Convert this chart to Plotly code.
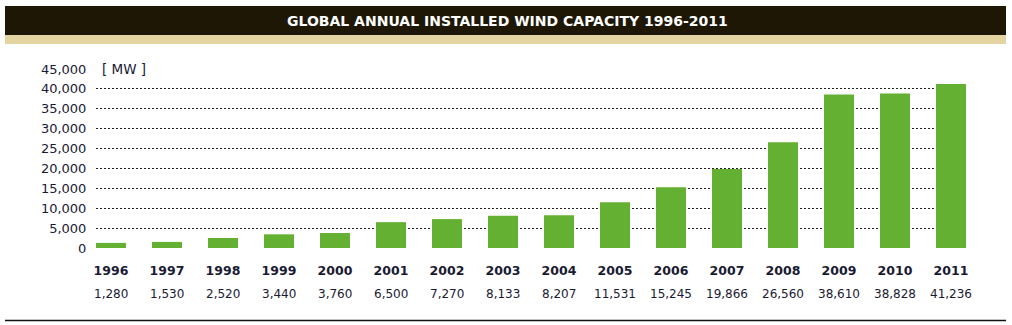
import plotly.graph_objects as go

years = ["1996", "1997", "1998", "1999", "2000", "2001", "2002", "2003",
         "2004", "2005", "2006", "2007", "2008", "2009", "2010", "2011"]
capacity = [1280, 1530, 2520, 3440, 3760, 6500, 7270, 8133,
            8207, 11531, 15245, 19866, 26560, 38610, 38828, 41236]
y_ticks = [0, 5000, 10000, 15000, 20000, 25000, 30000, 35000, 40000, 45000]
title_text = "GLOBAL ANNUAL INSTALLED WIND CAPACITY 1996-2011"
unit_text = "[ MW ]"

W, H = 1012, 325
L, R, T, B = 96, 966, 69, 248
pw, ph = R - L, B - T


def px(x):
    return (x - L) / pw


def py(y):
    return (B - y) / ph


TEXT = "#1a1a33"
FONT = "DejaVu Sans"

fig = go.Figure()
fig.add_trace(go.Bar(
    x=years, y=capacity, marker=dict(color="#64b032", line=dict(width=0)),
    hoverinfo="x+y",
))

shapes = [
    dict(type="rect", xref="paper", yref="paper", x0=px(5), x1=px(1006),
         y0=py(35), y1=py(6), fillcolor="#1e1705", line=dict(width=0), layer="above"),
    dict(type="rect", xref="paper", yref="paper", x0=px(5), x1=px(1006),
         y0=py(44), y1=py(35), fillcolor="#e3d4a2", line=dict(width=0), layer="above"),
    dict(type="line", xref="paper", yref="paper", x0=px(5), x1=px(1006),
         y0=py(320.5), y1=py(320.5), line=dict(color="#111111", width=1.5)),
]

annotations = [
    dict(text="<b>" + title_text + "</b>", xref="paper", yref="paper",
         x=px(507.5), y=py(20.5), xanchor="center", yanchor="middle",
         showarrow=False, font=dict(family=FONT, size=14, color="#ffffff")),
    dict(text=unit_text, xref="paper", yref="y", x=0, y=45000,
         xanchor="left", yanchor="middle", width=52, align="center",
         bgcolor="#ffffff", borderpad=1, showarrow=False,
         font=dict(family=FONT, size=13.5, color=TEXT)),
]
for i, v in enumerate(capacity):
    annotations.append(dict(
        text=f"{v:,}", x=i, xref="x", yref="paper", y=0, yshift=-46,
        xanchor="center", yanchor="middle", showarrow=False,
        font=dict(family=FONT, size=12, color=TEXT)))

fig.update_layout(
    width=W, height=H,
    margin=dict(l=L, r=W - R, t=T, b=H - B),
    paper_bgcolor="#ffffff", plot_bgcolor="#ffffff",
    showlegend=False, bargap=0.464,
    shapes=shapes, annotations=annotations,
    xaxis=dict(
        type="category", range=[-0.268, 15.268],
        tickvals=years, ticktext=["<b>" + y + "</b>" for y in years],
        tickfont=dict(family=FONT, size=12.5, color=TEXT),
        showgrid=False, showline=False, zeroline=False,
        ticks="outside", ticklen=11, tickcolor="rgba(0,0,0,0)",
    ),
    yaxis=dict(
        range=[0, 45000], tickvals=y_ticks,
        ticktext=[f"{v:,}" for v in y_ticks],
        tickfont=dict(family=FONT, size=13, color=TEXT),
        showgrid=True, gridcolor="#222222", gridwidth=1, griddash="2px,2px",
        zeroline=True, zerolinecolor="#ffffff", zerolinewidth=1,
        showline=False, ticks="outside", ticklen=6, tickcolor="rgba(0,0,0,0)",
    ),
)

fig.write_html("out.html")
